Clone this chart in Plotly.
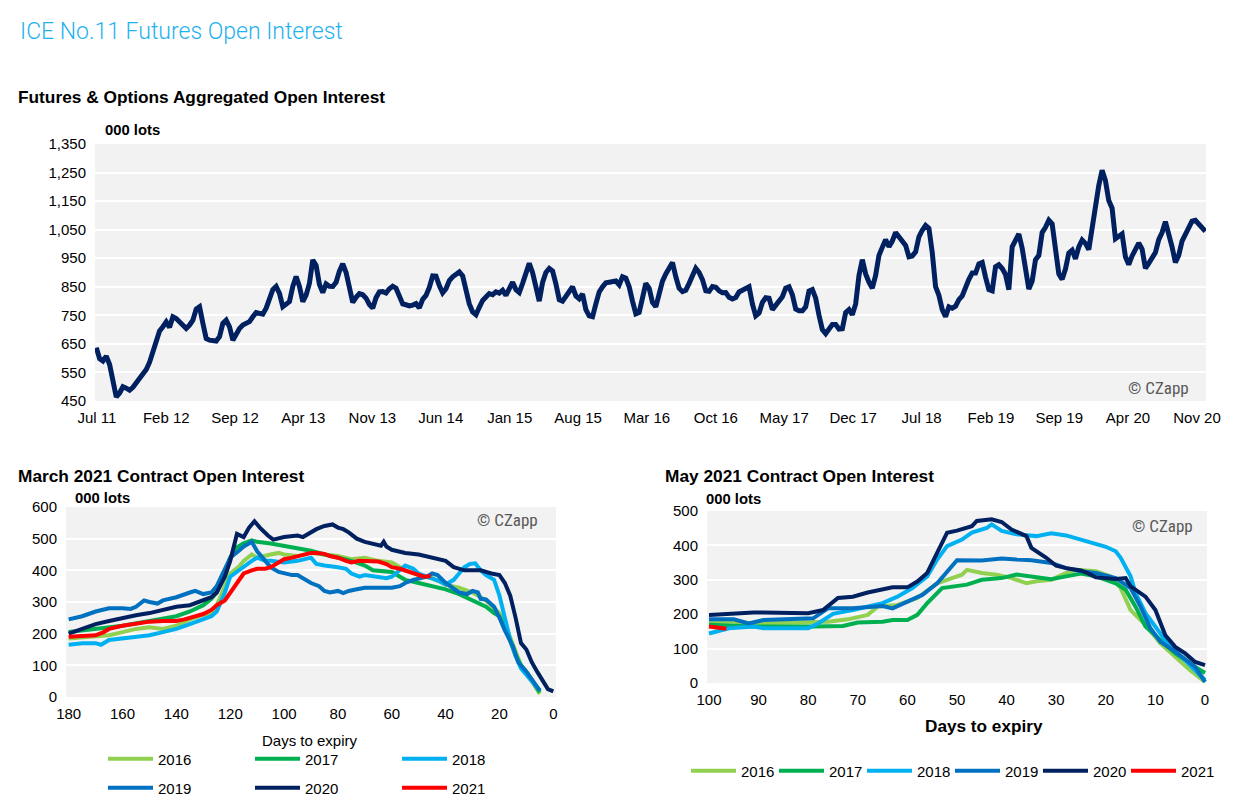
import pandas as pd
import plotly.graph_objects as go

W, H = 1234, 802

# ---------------- Top chart: Futures & Options aggregated OI (000 lots) ----------------
AGG_START = "2011-06-29"
AGG_END = "2020-11-27"
agg_oi = [
    637, 598, 590, 607, 578, 528, 464, 478, 500, 495,
    488, 498, 515, 530, 543, 560, 586, 622, 663, 695,
    710, 727, 708, 745, 739, 727, 716, 704, 716, 733,
    772, 780, 722, 669, 663, 663, 660, 675, 722, 733,
    710, 663, 686, 704, 716, 720, 728, 745, 760, 757,
    754, 775, 810, 840, 851, 827, 780, 792, 798, 851,
    886, 851, 798, 821, 862, 944,
    925, 858, 830, 860, 852, 851, 866, 905, 930, 900,
    845, 795, 813, 826, 822, 810, 788, 775, 812, 832,
    833, 828, 843, 852, 845, 815, 790, 787, 783, 786,
    791, 776, 806, 820, 848, 888, 887, 854, 829, 843,
    872, 885, 896, 902, 888, 832, 790, 762, 752, 778,
    802, 814, 826, 822, 832, 828, 838, 820, 848, 866,
    840, 830, 862, 905, 932, 899,
    855, 800, 865, 900, 914, 905, 860, 805, 800, 817,
    830, 850, 818, 808, 825, 770, 748, 745, 790, 832,
    850, 864, 866, 866, 870, 857, 885, 880, 850, 800,
    755, 760, 818, 862, 845, 795, 780, 822, 870, 895,
    915, 935, 885, 845, 833, 838, 862, 895, 915, 900,
    875, 836, 834, 851, 848, 836, 829, 830, 813, 807,
    812, 832, 838, 840, 850, 790, 748,
    758, 795, 812, 810, 770, 785, 800, 815, 845, 850,
    822, 772, 766, 766, 780, 835, 840, 810, 750, 700,
    686, 700, 718, 718, 702, 703, 760, 770, 752, 790,
    890, 945, 895, 866, 845, 890, 960, 988, 1015, 990,
    1010, 1040, 1025, 1017, 995, 955, 958, 972, 1025, 1048,
    1065, 1055, 970, 850, 820, 770, 745, 780, 775, 782,
    805, 818, 850, 876, 898, 898, 930,
    935, 884, 840, 836, 920, 927, 914, 893, 840, 990,
    1015, 1035, 985, 915, 842, 870, 945, 960, 1040, 1058,
    1083, 1070, 985, 895, 876, 912, 968, 978, 948, 990,
    1014, 1002, 980, 1055, 1148, 1205, 1258, 1222, 1152, 1125,
    1018, 1027, 1035, 955, 928, 958, 980, 1003, 982, 915,
    932, 950, 970, 1015, 1040, 1078, 1040, 990, 935, 960,
    1010, 1035, 1055, 1080, 1083, 1068, 1055, 1044,
]
agg_dates = pd.date_range(AGG_START, AGG_END, periods=len(agg_oi))

# ---------------- March 2021 contract OI (days to expiry, 000 lots) ----------------
mar_2016_days = [180, 170, 165, 160, 155, 150, 145, 140, 135, 130, 127, 125, 122, 120, 117, 115, 112, 110, 105, 102,
                 100, 95, 90, 85, 80, 75, 70, 65, 60, 55, 50, 45, 40, 35, 30, 25, 22, 20, 17, 14, 12, 8, 5]
mar_2016_oi = [185, 190, 195, 205, 215, 220, 215, 225, 245, 260, 265, 290, 350, 390, 410, 430, 450, 440, 450, 455,
               450, 445, 455, 450, 445, 435, 440, 430, 425, 400, 385, 375, 355, 345, 330, 305, 280, 265, 210, 140, 100, 50, 10]

mar_2017_days = [180, 170, 160, 150, 140, 135, 130, 127, 125, 122, 120, 118, 115, 112, 110, 105, 100, 95, 90, 85,
                 80, 75, 70, 67, 60, 55, 50, 45, 40, 35, 30, 25, 22, 20, 17, 14, 12, 10, 7, 5]
mar_2017_oi = [205, 215, 225, 240, 255, 270, 290, 310, 330, 390, 440, 470, 485, 495, 490, 485, 478, 470, 462, 450,
               440, 430, 415, 400, 395, 370, 360, 350, 340, 325, 305, 285, 265, 255, 200, 130, 100, 80, 40, 15]

mar_2018_days = [180, 175, 170, 168, 165, 160, 155, 150, 145, 140, 135, 130, 127, 125, 122, 120, 117, 115, 112, 110,
                 107, 105, 100, 95, 90, 88, 85, 80, 77, 75, 72, 70, 65, 62, 60, 57, 55, 52, 50, 47,
                 45, 42, 40, 37, 35, 33, 31, 29, 27, 25, 22, 20, 18, 16, 14, 12, 8, 5]
mar_2018_oi = [165, 170, 170, 165, 180, 185, 190, 195, 205, 215, 230, 245, 255, 270, 330, 380, 400, 410, 430, 440,
               430, 430, 425, 430, 440, 420, 415, 410, 405, 390, 380, 385, 380, 375, 380, 400, 415, 405, 390, 380,
               375, 365, 355, 370, 390, 410, 420, 422, 400, 385, 370, 320, 250, 180, 130, 90, 50, 20]

mar_2019_days = [180, 175, 170, 165, 160, 157, 155, 152, 150, 147, 145, 140, 135, 133, 130, 127, 125, 122, 120, 117,
                 115, 112, 110, 107, 105, 102, 100, 97, 95, 92, 90, 87, 85, 83, 80, 78, 76, 73, 70, 65,
                 60, 57, 55, 52, 50, 47, 45, 43, 40, 37, 35, 32, 30, 28, 27, 25, 22, 20, 18, 15, 13, 10, 7, 5]
mar_2019_oi = [245, 255, 270, 280, 280, 278, 285, 305, 300, 295, 305, 315, 330, 335, 325, 330, 350, 400, 440, 460,
               475, 490, 460, 430, 410, 395, 390, 385, 385, 370, 360, 350, 335, 330, 335, 328, 335, 340, 345, 345,
               345, 350, 360, 370, 375, 380, 390, 385, 360, 340, 330, 325, 335, 330, 310, 308, 285, 250, 210, 160,
               110, 80, 45, 20]

mar_2020_days = [180, 175, 170, 165, 160, 155, 150, 145, 140, 135, 130, 127, 125, 122, 120, 117.5, 115, 113, 111, 109,
                 106, 104, 100, 95, 93, 90, 88, 85, 82, 80, 78, 76, 73, 70, 67, 64, 63, 62, 60, 55,
                 50, 45, 40, 37, 33, 30, 27, 23, 20, 18, 16, 14, 12, 10, 8, 6, 4, 2, 0]
mar_2020_oi = [200, 215, 230, 240, 250, 258, 265, 275, 285, 290, 305, 315, 330, 380, 430, 515, 505, 535, 555, 535,
               510, 497, 505, 510, 505, 520, 530, 540, 545, 535, 530, 520, 500, 490, 485, 478, 490, 475, 465, 455,
               450, 440, 430, 410, 400, 400, 400, 390, 385, 360, 320, 250, 170, 150, 110, 80, 50, 25, 18]

mar_2021_days = [180, 175, 170, 167, 165, 160, 155, 150, 145, 140, 137, 135, 130, 127, 125, 122, 120, 117, 115, 112,
                 110, 107, 105, 102, 100, 97, 95, 92, 90, 88, 86, 85, 83, 80, 77, 75, 72, 70, 67, 65,
                 62, 60, 57, 55, 52, 50, 48, 45.5]
mar_2021_oi = [190, 192, 195, 205, 215, 225, 232, 238, 240, 240, 245, 250, 262, 275, 290, 305, 330, 370, 390, 400,
               405, 405, 410, 425, 435, 440, 445, 450, 455, 455, 455, 452, 445, 440, 430, 425, 430, 430, 430, 428,
               420, 410, 405, 400, 390, 385, 380, 382]

# ---------------- May 2021 contract OI ----------------
may_2016_days = [100, 95, 91, 79, 76, 72, 68, 66, 62, 58, 54, 51, 49, 48, 45, 42, 39, 36, 34, 31,
                 28, 26, 22, 19, 17, 15, 12, 9, 6, 3, 0]
may_2016_oi = [178, 178, 173, 175, 178, 185, 198, 222, 227, 247, 290, 305, 315, 329, 320, 315, 305, 290, 296, 300,
               320, 329, 325, 310, 276, 212, 169, 115, 76, 37, 3]

may_2017_days = [100, 91, 79, 73, 70, 65, 63, 60, 58, 56, 53, 50, 48, 45, 41, 38, 35, 31, 28, 25,
                 22, 18, 16, 14, 12, 9, 6, 2, 0]
may_2017_oi = [169, 164, 164, 166, 176, 178, 183, 183, 198, 232, 276, 281, 286, 300, 305, 315, 310, 302, 310, 318,
               310, 290, 271, 222, 164, 125, 86, 47, 29]

may_2018_days = [100, 96, 91, 89, 80, 78, 75, 71, 65, 62, 59, 56, 54, 52, 49, 47, 44, 43, 41, 38,
                 34, 31, 28, 25, 22, 20, 18, 17, 15, 14, 12, 9, 7, 4, 0]
may_2018_oi = [144, 159, 164, 159, 159, 173, 201, 212, 232, 251, 276, 310, 359, 398, 417, 437, 451, 461, 442, 432,
               427, 435, 429, 417, 403, 396, 383, 364, 310, 261, 203, 144, 105, 66, 8]

may_2019_days = [100, 95, 92, 89, 79, 76, 71, 65, 63, 60, 57, 54, 52, 50, 45, 41, 38, 35, 31, 28,
                 25, 22, 18, 15, 13, 11, 9, 6, 2, 0]
may_2019_oi = [185, 185, 173, 183, 188, 217, 217, 224, 217, 237, 256, 290, 325, 357, 356, 362, 359, 357, 349, 334,
               325, 320, 305, 276, 222, 159, 120, 91, 47, 3]

may_2020_days = [100, 91, 80, 77, 74, 71, 68, 63, 60, 58, 56, 54, 52, 50, 47, 46, 43, 41, 39, 36,
                 35, 32, 30, 28, 25, 23, 22, 18, 16, 15, 12, 10, 8, 6, 4, 2, 0]
may_2020_oi = [198, 205, 203, 212, 247, 251, 263, 278, 278, 295, 320, 378, 437, 443, 456, 471, 476, 468, 446, 427,
               393, 364, 341, 334, 327, 315, 307, 302, 305, 281, 251, 212, 139, 105, 86, 61, 52]

may_2021_days = [100, 98, 96.5]
may_2021_oi = [164, 160, 158]

YEARS = ["2016", "2017", "2018", "2019", "2020", "2021"]
COLORS = ["#92d050", "#00b050", "#00b0f0", "#0070c0", "#002060", "#ff0000"]

mar_series = [(mar_2016_days, mar_2016_oi), (mar_2017_days, mar_2017_oi), (mar_2018_days, mar_2018_oi),
              (mar_2019_days, mar_2019_oi), (mar_2020_days, mar_2020_oi), (mar_2021_days, mar_2021_oi)]
may_series = [(may_2016_days, may_2016_oi), (may_2017_days, may_2017_oi), (may_2018_days, may_2018_oi),
              (may_2019_days, may_2019_oi), (may_2020_days, may_2020_oi), (may_2021_days, may_2021_oi)]

TOP_YTICKS = list(range(450, 1351, 100))
MAR_YTICKS = list(range(0, 601, 100))
MAR_XTICKS = list(range(0, 181, 20))
MAY_YTICKS = list(range(0, 501, 100))
MAY_XTICKS = list(range(0, 101, 10))

# ---------------- helpers for pixel layout (page body margin compensated) ----------------
OFF = 8

def px(x):
    return (x - OFF) / W

def py(y):
    return 1 - (y - OFF) / H

NAVY = "#002060"
GRID_BG = "#f2f2f2"
FONT = "Liberation Sans, Arial, sans-serif"
NARROW = "Liberation Sans Narrow, Roboto Condensed, Roboto, sans-serif"

fig = go.Figure()

fig.add_trace(go.Scatter(x=agg_dates, y=agg_oi, mode="lines", line=dict(color=NAVY, width=5),
                         xaxis="x", yaxis="y", showlegend=False, name="Aggregated OI"))

for i, (d, v) in enumerate(mar_series):
    fig.add_trace(go.Scatter(x=d, y=v, mode="lines", name=YEARS[i],
                             line=dict(color=COLORS[i], width=4),
                             xaxis="x2", yaxis="y2",
                             legend="legend" if i < 3 else "legend2"))

for i, (d, v) in enumerate(may_series):
    fig.add_trace(go.Scatter(x=d, y=v, mode="lines", name=YEARS[i],
                             line=dict(color=COLORS[i], width=4),
                             xaxis="x3", yaxis="y3", legend="legend3"))

tickfont = dict(family=FONT, size=15, color="#000000")

axis_common_y = dict(showline=False, zeroline=False, showgrid=True, gridcolor="white", gridwidth=2,
                     tickfont=tickfont, ticks="", ticklabelstandoff=8, fixedrange=True, automargin=False)
axis_common_x = dict(showline=False, zeroline=False, showgrid=False, tickfont=tickfont, ticks="",
                     ticklabelstandoff=6, fixedrange=True, automargin=False)

legend_common = dict(orientation="h", itemwidth=45, font=dict(family=FONT, size=15, color="#000000"),
                     bgcolor="rgba(0,0,0,0)", xanchor="left", yanchor="middle", tracegroupgap=0,
                     itemclick=False, itemdoubleclick=False)

fig.update_layout(
    width=W, height=H,
    margin=dict(l=0, r=0, t=0, b=0, autoexpand=False),
    paper_bgcolor="white",
    plot_bgcolor=GRID_BG,
    showlegend=True,
    xaxis=dict(axis_common_x, domain=[px(95), px(1206)], anchor="y", type="date",
               range=["2011-06-25", "2020-11-29"], tick0="2011-07-01", dtick="M7", tickformat="%b %y"),
    yaxis=dict(axis_common_y, domain=[py(401), py(144)], anchor="x", range=[450, 1350],
               tickvals=TOP_YTICKS, tickformat=","),
    xaxis2=dict(axis_common_x, domain=[px(66), px(556)], anchor="y2", range=[181, -1],
                tickvals=MAR_XTICKS),
    yaxis2=dict(axis_common_y, domain=[py(697), py(507)], anchor="x2", range=[0, 600],
                tickvals=MAR_YTICKS),
    xaxis3=dict(axis_common_x, domain=[px(707), px(1207)], anchor="y3", range=[100.4, -0.4],
                tickvals=MAY_XTICKS),
    yaxis3=dict(axis_common_y, domain=[py(683), py(511)], anchor="x3", range=[0, 500],
                tickvals=MAY_YTICKS),
    legend=dict(legend_common, x=px(103), y=py(759), entrywidth=87),
    legend2=dict(legend_common, x=px(103), y=py(788), entrywidth=87),
    legend3=dict(legend_common, x=px(686), y=py(771), entrywidth=28),
)

def note(text, x, y, size=15, bold=False, color="#000000", family=FONT, xanchor="left", weight=None):
    f = dict(family=family, size=size, color=color)
    if bold:
        f["weight"] = "bold"
    if weight is not None:
        f["weight"] = weight
    fig.add_annotation(text=text, x=px(x), y=py(y), xref="paper", yref="paper",
                       xanchor=xanchor, yanchor="middle", showarrow=False, font=f)

note("ICE No.11 Futures Open Interest", 18, 31, size=23, color="#1fb2ee",
     family="Roboto, sans-serif", weight=300)
note("Futures &amp; Options Aggregated Open Interest", 16, 97, size=17.3, bold=True)
note("000 lots", 103, 130, size=14.8, bold=True)
note("© CZapp", 1191, 388, size=17, color="#595959", family=NARROW, xanchor="right")

note("March 2021 Contract Open Interest", 16, 476, size=17.3, bold=True)
note("000 lots", 73, 498, size=14.8, bold=True)
note("© CZapp", 540, 520, size=17, color="#595959", family=NARROW, xanchor="right")
note("Days to expiry", 310, 740, size=15, xanchor="center")

note("May 2021 Contract Open Interest", 663, 476, size=17.3, bold=True)
note("000 lots", 704, 499, size=14.8, bold=True)
note("© CZapp", 1195, 526, size=17, color="#595959", family=NARROW, xanchor="right")
note("Days to expiry", 984, 726, size=17.2, bold=True, xanchor="center")

fig.write_html("out.html")
